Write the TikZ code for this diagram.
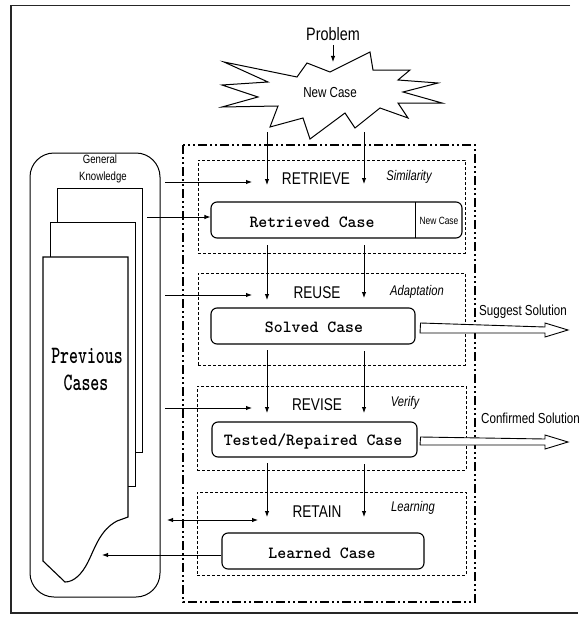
\documentclass[tikz,border=0pt]{standalone}
\usepackage{fontspec}
\newfontfamily\cond[FakeStretch=0.8]{Liberation Sans}
\usetikzlibrary{arrows.meta}
\begin{document}
\begin{tikzpicture}[x=1pt,y=-1pt,
  lbl/.style={font=\cond\fontsize{17}{17}\selectfont, inner sep=0pt},
  itl/.style={font=\cond\itshape\fontsize{14}{14}\selectfont, inner sep=0pt},
  mono/.style={font=\ttfamily\bfseries\fontsize{17}{17}\selectfont, inner sep=0pt},
  bigmono/.style={font=\ttfamily\bfseries\fontsize{25}{25}\selectfont, inner sep=0pt},
  small/.style={font=\cond\fontsize{12}{12}\selectfont, inner sep=0pt},
  casebox/.style={draw, rounded corners=6pt, line width=1.1pt, inner sep=0pt},
  stagebox/.style={draw, dash pattern=on 3pt off 2pt, line width=0.8pt, inner sep=0pt},
  arr/.style={-{Latex[length=6pt,width=4.5pt]}, line width=0.9pt},
  darr/.style={{Latex[length=6pt,width=4.5pt]}-{Latex[length=6pt,width=4.5pt]}, line width=0.9pt},
  hollow/.style={draw, line width=0.9pt, fill=white},
  dashdot/.style={line width=2pt, dash pattern=on 9pt off 3pt on 2pt off 3pt on 2pt off 3pt}
]
\useasboundingbox (0,0) rectangle (581,618);
% outer frame (right side open)
\draw[line width=1.2pt, black!85] (570,5.5) -- (11,5.5) -- (11,613) -- (578,613);

% Problem and New Case starburst
\node[lbl, font=\cond\fontsize{18}{18}\selectfont] (prob) at (333,34) {Problem};
\coordinate (probarr) at (333,62);
\draw[line width=1pt] (224,62) -- (297,77) -- (307,63) -- (330,72) -- (370,52) -- (373,70)
  -- (410,70) -- (398,80) -- (438,83) -- (403,92) -- (442,103) -- (398,103) -- (408,118)
  -- (380,108) -- (355,128) -- (345,113) -- (310,139) -- (303,118) -- (270,127) -- (278,106)
  -- (222,107) -- (258,97) -- (222,85) -- (268,82) -- cycle;
\node[lbl, font=\cond\fontsize{14.5}{14.5}\selectfont] (newcase) at (330,93) {New Case};
\draw[arr] (prob.south) ++(0,4) coordinate (probtop) -- (probarr);

% big dash-dot frame
\draw[dashdot] (183,145) rectangle (475,602);

% stage boxes
\node[stagebox, minimum width=267pt, minimum height=93pt] (sret) at (331.5,206.5) {};
\node[stagebox, minimum width=267pt, minimum height=92pt] (sreu) at (331.5,319) {};
\node[stagebox, minimum width=269pt, minimum height=84pt] (srev) at (331.5,428) {};
\node[stagebox, minimum width=269pt, minimum height=83pt] (sret2) at (331.5,533.5) {};

% case boxes
\node[casebox, minimum width=251pt, minimum height=36pt] (retbox) at (336.5,220) {};
\draw[line width=1pt] (415,202) -- (415,238);
\node[casebox, minimum width=204pt, minimum height=36pt] (solbox) at (313,326) {};
\node[casebox, minimum width=205pt, minimum height=35pt] (tesbox) at (314.5,439.5) {};
\node[casebox, minimum width=202pt, minimum height=36pt] (leabox) at (323,551) {};

% labels
\node[lbl] (lret) at (316,179) {RETRIEVE};
\node[itl] (lsim) at (409,177) {Similarity};
\node[mono] (tret) at (312,222) {Retrieved Case};
\node[small, font=\cond\fontsize{10.5}{10.5}\selectfont] (tnew) at (439,221) {New Case};
\node[lbl] (lreu) at (317,293) {REUSE};
\node[itl] (lada) at (417,292) {Adaptation};
\node[mono] (tsol) at (314,327) {Solved Case};
\node[lbl] (lrev) at (317,405) {REVISE};
\node[itl] (lver) at (405,403) {Verify};
\node[mono] (ttes) at (313,441) {Tested/Repaired Case};
\node[lbl] (lrta) at (317,512) {RETAIN};
\node[itl] (llea) at (413,508) {Learning};
\node[mono] (tlea) at (322,553) {Learned Case};

% outputs
\node[lbl, font=\cond\fontsize{14.5}{14.5}\selectfont, anchor=west] (sugg) at (479,312) {Suggest Solution};
\node[lbl, font=\cond\fontsize{14.5}{14.5}\selectfont, anchor=west] (conf) at (481,418) {Confirmed Solution};
\draw[hollow] (solbox.east) ++(5,-3) -- (545,327) -- (545,323) -- (568,330) -- (545,337) -- (545,333) -- (420,333) -- cycle;
\draw[hollow] (tesbox.east) ++(3,-2.5) -- (545,439) -- (545,435) -- (568,442) -- (545,449) -- (545,445) -- (420,445) -- cycle;
\coordinate (sugtip) at (568,330);
\coordinate (conftip) at (568,442);

% left knowledge container
\node[draw, line width=1pt, rounded corners=24pt, minimum width=130pt, minimum height=444pt, inner sep=0pt] (gk) at (95,375) {};
\node[small] (gen) at (100,159) {General};
\node[small] (know) at (103,177) {Knowledge};
% stacked pages
\draw[line width=1pt, fill=white] (57,188) rectangle (142,452);
\draw[line width=1pt, fill=white] (50,222) rectangle (135,486);
\draw[line width=1.1pt, fill=white] (43,257) -- (128,257) -- (128,517) -- (117,521)
  .. controls (100,530) and (95,548) .. (88,562)
  .. controls (82,574) and (74,582) .. (65,582) -- (43,561) -- cycle;
\node[bigmono] (prev1) at (87,356) {\scalebox{0.68}[1]{Previous}};
\node[bigmono] (prev2) at (86,383) {\scalebox{0.68}[1]{Cases}};

% coordinates for connectors
\coordinate (k1) at (165,182);  \coordinate (k1e) at (252,182);
\coordinate (k2) at (147,217);
\coordinate (k3) at (165,295);  \coordinate (k3e) at (252,295);
\coordinate (k4) at (165,408);  \coordinate (k4e) at (252,408);
\coordinate (k5) at (167,520);  \coordinate (k5e) at (258,520);
\coordinate (k6) at (102,555);

\draw[arr] (k1) -- (k1e);
\draw[arr] (k2) -- (k2 -| retbox.west);
\draw[arr] (k3) -- (k3e);
\draw[arr] (k4) -- (k4e);
\draw[darr] (k5) -- (k5e);
\draw[arr] (leabox.west |- k6) -- (k6);

% vertical arrows
\coordinate (v1a) at (267,132); \coordinate (v1b) at (267,185);
\coordinate (w1a) at (364,132); \coordinate (w1b) at (364,184);
\coordinate (v2a) at (267,245); \coordinate (v2b) at (267,300);
\coordinate (w2a) at (364,245); \coordinate (w2b) at (364,298);
\coordinate (v3a) at (267,350); \coordinate (v3b) at (267,413);
\coordinate (w3a) at (364,351); \coordinate (w3b) at (364,413);
\coordinate (v4a) at (267,463); \coordinate (v4b) at (267,517);
\coordinate (w4a) at (364,464); \coordinate (w4b) at (364,517);
\foreach \a/\b in {v1a/v1b,w1a/w1b,v2a/v2b,w2a/w2b,v3a/v3b,w3a/w3b,v4a/v4b,w4a/w4b}
  \draw[arr] (\a) -- (\b);
\end{tikzpicture}
\end{document}
